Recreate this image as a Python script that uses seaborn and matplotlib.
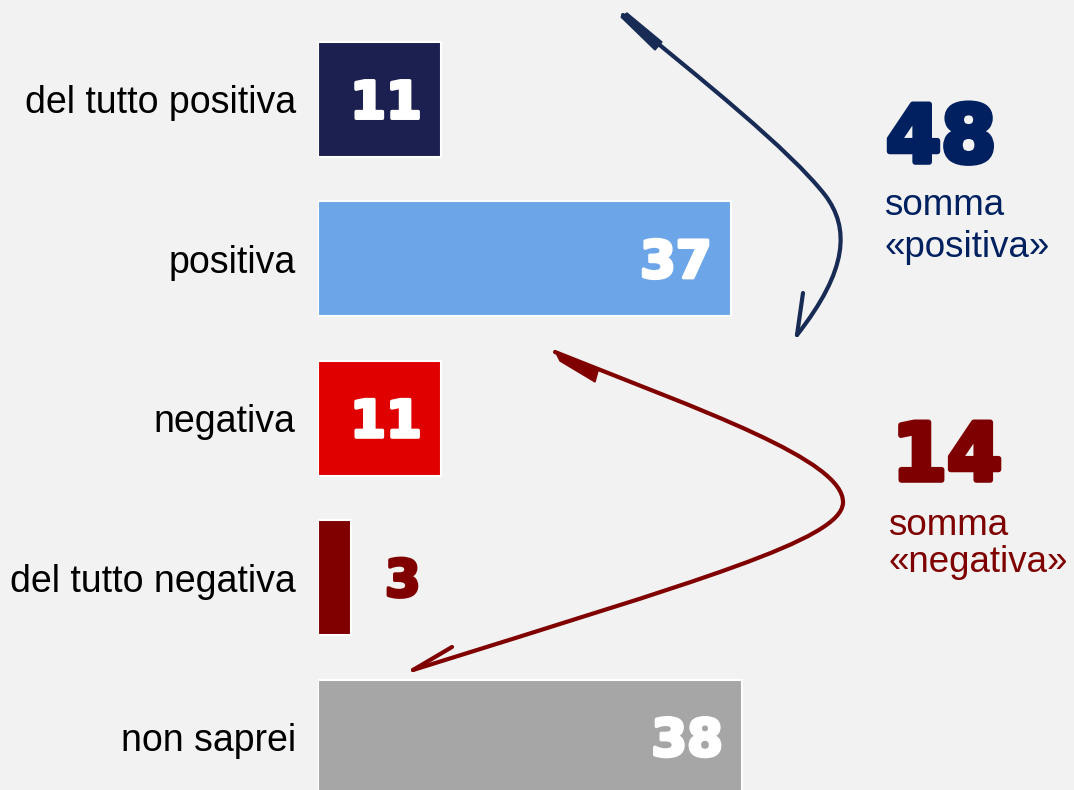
import matplotlib
matplotlib.use("Agg")
import matplotlib.pyplot as plt
import matplotlib.patheffects as pe
import seaborn as sns
import pandas as pd
from matplotlib.path import Path
from matplotlib.patches import PathPatch, Polygon

# Data
categories = ['del tutto positiva', 'positiva', 'negativa', 'del tutto negativa', 'non saprei']
values = [11, 37, 11, 3, 38]
bar_colors = ['#1c2050', '#6ca6e8', '#e00000', '#800000', '#a6a6a6']
sum_positive = 48
sum_negative = 14

df = pd.DataFrame({'cat': categories, 'val': values})

sns.set_style('white')
plt.rcParams['font.family'] = ['Liberation Sans', 'DejaVu Sans']

W, H = 1074, 790
fig = plt.figure(figsize=(W / 100, H / 100), dpi=100, facecolor='#f2f2f2')
ax = fig.add_axes([318 / W, 0, (987 - 318) / W, 1])
ax.set_facecolor('#f2f2f2')

sns.barplot(data=df, x='val', y='cat', hue='cat', palette=bar_colors, orient='h',
            width=0.72, edgecolor='white', linewidth=1.5, saturation=1,
            legend=False, ax=ax)

ax.set_xlim(0, 60)
ax.set_ylim(4.332, -0.624)
ax.set_xlabel('')
ax.set_ylabel('')
ax.set_xticks([])
ax.tick_params(axis='y', length=0, pad=16, labelsize=27, labelcolor='black')
for s in ax.spines.values():
    s.set_visible(False)

# value labels (heavy look)
for i, v in enumerate(values):
    if v > 5:
        c, x, ha = 'white', v - 1.7, 'right'
    else:
        c, x, ha = bar_colors[i], v + 3.0, 'left'
    ax.text(x, i + 0.03, str(v), ha=ha, va='center', color=c,
            fontsize=37, fontweight='bold', family='DejaVu Sans',
            path_effects=[pe.withStroke(linewidth=2.5, foreground=c)])


def fx(x, y):
    return (x / W, 1 - y / H)


# summary texts
navy = '#002060'
dred = '#7f0000'
fig.text(*fx(886, 162), str(sum_positive), color=navy, fontsize=57, fontweight='bold',
         family='DejaVu Sans', va='baseline', ha='left',
         path_effects=[pe.withStroke(linewidth=4, foreground=navy)])
fig.text(*fx(884, 215), 'somma', color=navy, fontsize=26.5, va='baseline', ha='left')
fig.text(*fx(884, 257), '«positiva»', color=navy, fontsize=26.5, va='baseline', ha='left')
fig.text(*fx(892, 480), str(sum_negative), color=dred, fontsize=57, fontweight='bold',
         family='DejaVu Sans', va='baseline', ha='left',
         path_effects=[pe.withStroke(linewidth=4, foreground=dred)])
fig.text(*fx(888, 535), 'somma', color=dred, fontsize=26.5, va='baseline', ha='left')
fig.text(*fx(888, 572), '«negativa»', color=dred, fontsize=26.5, va='baseline', ha='left')


# hand-drawn style arrows
def curve(points, codes, color, lw):
    p = Path([fx(*pt) for pt in points], codes)
    fig.patches.append(PathPatch(p, facecolor='none', edgecolor=color, lw=lw,
                                 transform=fig.transFigure, capstyle='round',
                                 joinstyle='round'))


blue = '#172b54'
C = Path.CURVE4
curve([(623, 15), (700, 78), (790, 150), (825, 195),
       (850, 228), (848, 270), (797, 335)],
      [Path.MOVETO, C, C, C, C, C, C], blue, 3)
curve([(803, 293), (797, 335)], [Path.MOVETO, Path.LINETO], blue, 3)
fig.patches.append(Polygon([fx(621, 17), fx(627, 13), fx(662, 42), fx(655, 50)],
                           closed=True, color=blue, transform=fig.transFigure))

red = '#800000'
curve([(555, 352), (700, 410), (845, 460), (843, 503),
       (841, 540), (700, 580), (413, 670)],
      [Path.MOVETO, C, C, C, C, C, C], red, 3)
curve([(452, 647), (413, 670)], [Path.MOVETO, Path.LINETO], red, 3)
fig.patches.append(Polygon([fx(555, 351), fx(598, 371), fx(595, 382), fx(560, 361)],
                           closed=True, color=red, transform=fig.transFigure))

fig.savefig('out.png', dpi=100, facecolor=fig.get_facecolor())
